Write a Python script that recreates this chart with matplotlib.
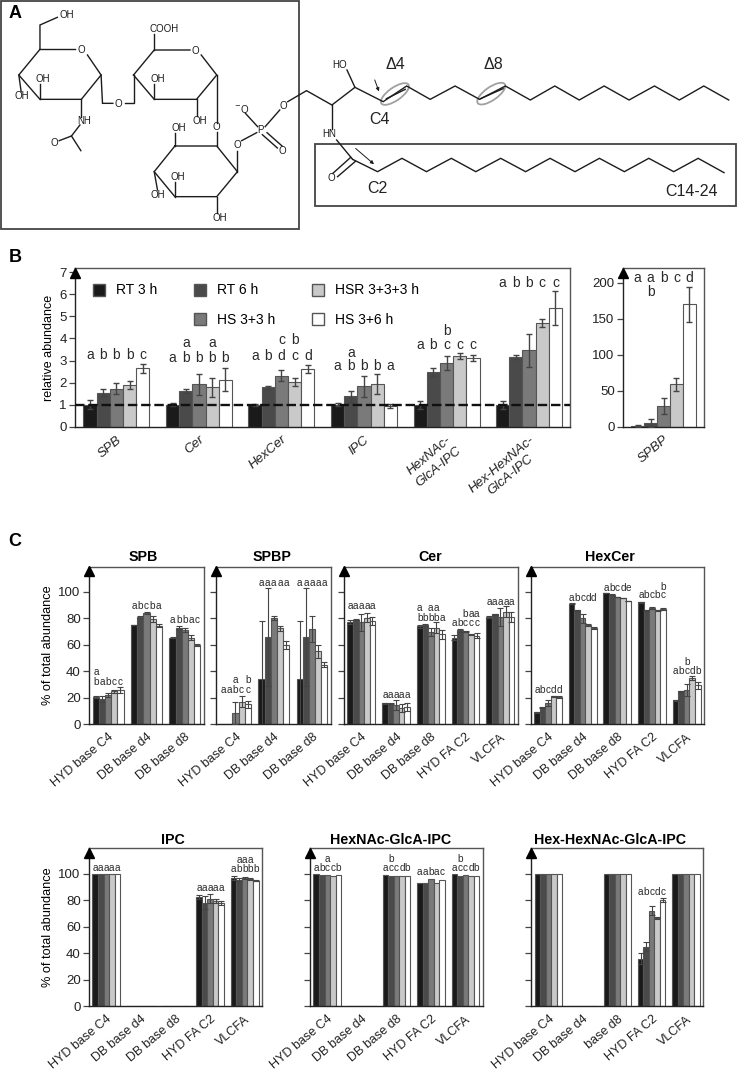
import numpy as np
import matplotlib
matplotlib.use('Agg')
import matplotlib.pyplot as plt
from matplotlib.patches import Rectangle, Ellipse, Patch
from matplotlib.transforms import ScaledTranslation

plt.rcParams['font.family'] = ['Liberation Sans', 'DejaVu Sans']
plt.rcParams['axes.linewidth'] = 1.0

W, H = 737, 1077
colors = ['#1a1a1a', '#4a4a4a', '#7a7a7a', '#c9c9c9', '#ffffff']
series = ['RT 3 h', 'RT 6 h', 'HS 3+3 h', 'HSR 3+3+3 h', 'HS 3+6 h']

# panel B
b_names = ['SPB', 'Cer', 'HexCer', 'IPC', 'HexNAc-\nGlcA-IPC', 'Hex-HexNAc-\nGlcA-IPC']
b_vals = [[1.0, 1.55, 1.72, 1.9, 2.65], [1.0, 1.62, 1.92, 1.78, 2.12], [1.0, 1.78, 2.32, 2.03, 2.63],
          [1.0, 1.37, 1.83, 1.95, 0.95], [1.0, 2.5, 2.9, 3.22, 3.12], [1.0, 3.15, 3.47, 4.72, 5.37]]
b_errs = [[.22, .17, .24, .17, .2], [.07, .1, .47, .45, .52], [.04, .08, .27, .18, .18],
          [.07, .25, .47, .45, .1], [.18, .18, .32, .13, .15], [.18, .08, .75, .18, .77]]
b_marks = [[('abbbc', 3.25)], [(' a a ', 3.78), ('abbbb', 3.1)], [('  cb ', 3.93), ('abdcd', 3.22)],
           [(' a   ', 3.35), ('abbba', 2.75)], [('  b  ', 4.33), ('abccc', 3.7)], [('abbcc', 6.5)]]
spbp_vals = [[1, 5, 29, 59, 170]]
spbp_errs = [[2, 5, 11, 9, 24]]
spbp_marks = [[('aabcd', 206), (' b   ', 186.5)]]

# panel C
names3 = ['HYD base C4', 'DB base d4', 'DB base d8']
names5 = ['HYD base C4', 'DB base d4', 'DB base d8', 'HYD FA C2', 'VLCFA']
names5b = ['HYD base C4', 'DB base d4', 'base d8', 'HYD FA C2', 'VLCFA']

spb_vals = [[20.5, 19, 22, 25, 26], [75, 81, 84, 79.5, 74.5], [65.5, 73, 71, 65.5, 60]]
spb_errs = [[1, 2, 1.5, 1, 2], [.3, .5, 1, 2, 1], [.5, 1, 1.5, 2, 1]]
spb_marks = [[('a    ', 39.8), ('babcc', 32)], [('abcba', 89.4)], [('abbac', 78.6)]]

sbp_vals = [[0, 0, 8.3, 17, 15], [34.5, 66, 80, 72.5, 60], [34.5, 66, 72, 55, 45]]
sbp_errs = [[0, 0, 8.2, 4, 2.5], [43.5, 37, 1.5, 2, 3], [43.5, 37, 9.5, 5, 2]]
sbp_marks = [[('  a b', 33.5), ('aabcc', 26)], [('aaaaa', 107)], [('aaaaa', 107)]]

cer_vals = [[77, 79, 77, 80.5, 78], [16, 15.5, 14.5, 12, 13], [74, 75, 70, 73, 68], [65.5, 71, 70, 68, 67], [81, 83, 81, 85, 81]]
cer_errs = [[1.5, .5, 6.5, 3.5, 3], [.3, .3, 4, 3, 3], [1, 1, 3, 4, 3.5], [2, 1, .5, .5, 2], [1, .5, 7, 4, 4]]
cer_marks = [[('aaaaa', 89.4)], [('aaaaa', 22)], [('a aa ', 88), ('bbbba', 80.6)], [('  baa', 83), ('abccc', 76.6)], [('aaaaa', 92.4)]]

hex_vals = [[9, 12.5, 16, 21, 20.5], [91, 86, 80, 75, 73], [99, 98, 96, 95.5, 93], [92, 86, 88, 86, 87], [18, 25, 26, 35, 29.5]]
hex_errs = [[.3, .3, 2.5, .5, .5], [.3, .5, 3.5, 1, .8], [.2, .2, .2, .2, .2], [.3, .5, .8, .5, .8], [.3, .3, 4.5, 1.5, 2.5]]
hex_marks = [[('abcdd', 26)], [('abcdd', 95.7)], [('abcde', 103)], [('    b', 104), ('abcbc', 97.5)], [('  b  ', 46.9), ('abcdb', 40.3)]]

ipc_vals = [[99.5, 99.5, 99.5, 99.7, 99.5], [0] * 5, [0] * 5, [82, 78, 81, 79, 77.5], [97, 95.5, 96.5, 96, 94.5]]
ipc_errs = [[0] * 5, [0] * 5, [0] * 5, [1.5, 5, 3.5, 1.5, 1.5], [1.5, 1, .8, .5, .5]]
ipc_marks = [[('aaaaa', 104.5)], [], [], [('aaaaa', 89.4)], [(' aaa ', 110), ('abbbb', 103.5)]]

hna_vals = [[99.3, 98.8, 99, 98.5, 98.7], [0] * 5, [99, 98.5, 98.5, 98, 98], [93, 93, 96, 93, 95], [99.5, 98.5, 98.7, 98, 98.2]]
hna_marks = [[('  a  ', 110.8), ('abccb', 104.5)], [], [(' b   ', 111), ('accdb', 104.5)], [('aabac', 100.8)], [(' b   ', 111), ('accdb', 104.5)]]

hhn_vals = [[100] * 5, [0] * 5, [100] * 5, [36, 45, 72, 66.5, 80], [100] * 5]
hhn_errs = [[0] * 5, [0] * 5, [0] * 5, [4.5, 3.5, 3.5, 1, 1.5], [0] * 5]
hhn_marks = [[], [], [], [('abcdc', 86)], []]
zero5 = [[0] * 5 for _ in range(5)]

# structure in panel A (zoom coordinates)
bonds = [
    [(85, 148), (160, 148)], [(186, 165), (215, 225), (173, 298), (85, 298), (40, 225), (85, 148)],
    [(85, 298), (85, 252)], [(40, 225), (45, 275)], [(85, 148), (85, 75), (122, 52)],
    [(173, 298), (173, 350)], [(170, 375), (152, 408), (126, 422)], [(152, 408), (172, 452)],
    [(215, 225), (218, 310), (240, 310)], [(265, 310), (284, 310), (284, 225)],
    [(284, 225), (328, 150), (404, 150)], [(428, 165), (461, 225), (418, 298), (328, 298), (284, 225)],
    [(328, 150), (328, 102)], [(328, 298), (328, 252)], [(418, 298), (418, 348)],
    [(461, 225), (461, 368)], [(461, 396), (461, 438)],
    [(372, 438), (461, 438), (505, 515), (461, 590), (372, 590), (328, 515), (372, 438)],
    [(372, 438), (372, 398)], [(372, 590), (372, 546)], [(328, 515), (335, 570)], [(461, 590), (461, 638)],
    [(505, 515), (505, 452)], [(514, 422), (546, 398)], [(522, 340), (548, 380)],
    [(564, 380), (595, 330)], [(558, 404), (590, 444)], [(568, 398), (600, 438)],
    [(612, 305), (652, 272), (706, 315), (755, 262), (815, 305), (865, 258), (915, 298), (968, 258),
     (1020, 298), (1075, 258), (1128, 300), (1180, 258), (1232, 300), (1285, 258), (1338, 300),
     (1392, 258), (1445, 300), (1497, 258), (1550, 300)],
    [(755, 262), (738, 210)], [(822, 296), (862, 268)], [(1022, 296), (1070, 266)],
    [(706, 315), (706, 386)], [(716, 420), (750, 478)], [(746, 472), (708, 520)], [(756, 484), (718, 530)],
    [(750, 478), (803, 515), (855, 475), (907, 515), (960, 475), (1012, 515), (1065, 475), (1118, 515),
     (1170, 475), (1223, 515), (1275, 475), (1328, 515), (1380, 475), (1433, 515), (1485, 475), (1540, 518)],
]
atoms = [('OH', 142, 45), ('O', 173, 150), ('OH', 92, 238), ('OH', 46, 287), ('NH', 180, 362), ('O', 115, 428),
         ('O', 252, 312), ('COOH', 350, 88), ('O', 416, 152), ('OH', 335, 238), ('OH', 425, 362), ('O', 461, 382),
         ('OH', 380, 383), ('OH', 378, 530), ('OH', 335, 585), ('OH', 468, 653), ('O', 505, 436), ('P', 555, 390),
         ('$^{-}$O', 513, 328), ('O', 602, 318), ('O', 600, 452), ('HO', 722, 195), ('HN', 700, 402), ('O', 705, 535)]
big_labels = [('Δ4', 840, 193), ('Δ8', 1050, 193), ('C4', 808, 360), ('C2', 803, 565), ('C14-24', 1470, 575)]


def zx(x):
    return x / 2.127


def zy(y):
    return y / 3.0


def box(left, top, right, bottom):
    return fig.add_axes([left / W, 1 - bottom / H, (right - left) / W, (bottom - top) / H])


def grouped(ax, vals, errs, marks, names, ymax, bw=0.16, fs=7.2, cap=2.2, lw=0.8, rot=40, lab_fs=9, italic=False):
    n = len(vals)
    for j in range(5):
        x = np.arange(n) + (j - 2) * bw
        y = [v[j] for v in vals]
        e = [v[j] for v in errs]
        ax.bar(x, y, bw, color=colors[j], edgecolor='#555555', linewidth=0.8, zorder=2)
        keep = [k for k in range(n) if e[k] > 0]
        ax.errorbar(x[keep], [y[k] for k in keep], yerr=[e[k] for k in keep], fmt='none',
                    ecolor='#444444', elinewidth=lw, capsize=cap, capthick=lw, zorder=3)
    for i, rows in enumerate(marks):
        for s, yy in rows:
            for j, ch in enumerate(s):
                if ch != ' ':
                    ax.text(i + (j - 2) * bw, yy, ch, ha='center', va='center', fontsize=fs, color='#2a2a2a')
    ax.set_xlim(-0.5, n - 0.5)
    ax.set_ylim(0, ymax)
    ax.set_xticks(range(n))
    ax.set_xticklabels(names, rotation=rot, ha='right', va='top', rotation_mode='anchor', fontsize=lab_fs,
                       style='italic' if italic else 'normal', multialignment='center', color='#222222')
    shift = ScaledTranslation(4 / 100, 0, fig.dpi_scale_trans)
    for lab in ax.get_xticklabels():
        lab.set_transform(lab.get_transform() + shift)
    ax.tick_params(axis='x', length=0, pad=5)
    ax.tick_params(axis='y', length=4, width=0.9, color='#444444', labelcolor='#222222')
    for s in ['top', 'right']:
        ax.spines[s].set_color('#555555')
    ax.spines['left'].set_color('#222222')
    ax.spines['bottom'].set_color('#222222')
    ax.plot(0, 0.972, '^', transform=ax.transAxes, clip_on=False, ms=6.5, color='k', zorder=5)


def title(ax, text, dx, pad=4):
    # the figure's titles sit a little left of the axes centre
    ax.set_title(text, fontsize=10.3, fontweight='bold', pad=pad, x=0.5 + dx / ax.bbox.width)


fig = plt.figure(figsize=(W / 100, H / 100), dpi=100)

# overlay for panel A and the panel letters
ov = fig.add_axes([0, 0, 1, 1])
ov.set_xlim(0, W)
ov.set_ylim(H, 0)
ov.axis('off')
ov.add_patch(Rectangle((0.7, 0.7), zx(635), zy(685), fill=False, ec='#444444', lw=1.3))
ov.add_patch(Rectangle((zx(670), zy(432)), zx(895), zy(186), fill=False, ec='#444444', lw=1.3))
for b in bonds:
    ov.plot([zx(p[0]) for p in b], [zy(p[1]) for p in b], color='#1c1c1c', lw=1.0, solid_joinstyle='miter')
for cx, cy in [(840, 282), (1045, 281)]:
    ov.add_patch(Ellipse((zx(cx), zy(cy)), 33, 13, angle=-35, fill=False, ec='#a0a0a0', lw=1.3))
for p0, p1 in [((795, 232), (808, 282)), ((752, 440), (800, 498))]:
    ov.annotate('', xy=(zx(p1[0]), zy(p1[1])), xytext=(zx(p0[0]), zy(p0[1])),
                arrowprops=dict(arrowstyle='-|>', color='#1c1c1c', lw=0.7, mutation_scale=5))
for t, x, y in atoms:
    ov.text(zx(x), zy(y), t, ha='center', va='center', fontsize=7, color='#1c1c1c')
for t, x, y in big_labels:
    ov.text(zx(x), zy(y), t, ha='center', va='center', fontsize=11.5, color='#222222')
for t, y in [('A', 14), ('B', 257), ('C', 541)]:
    ov.text(15, y, t, ha='center', va='center', fontsize=13, fontweight='bold')

# panel B
ax = box(75.2, 268.3, 570.3, 426.7)
grouped(ax, b_vals, b_errs, b_marks, b_names, 7.18, fs=10, cap=2.5, lw=1.0, lab_fs=9.5, italic=True)
ax.axhline(1, color='#111111', ls=(0, (4, 1.6)), lw=1.7, zorder=4)
ax.set_yticks(range(8))
ax.tick_params(axis='y', labelsize=9.5, pad=2)
ax.set_ylabel('relative abundance', fontsize=9, labelpad=3)
handles = [Patch(facecolor=colors[0], edgecolor='#555555'), Patch(visible=False),
           Patch(facecolor=colors[1], edgecolor='#555555'), Patch(facecolor=colors[2], edgecolor='#555555'),
           Patch(facecolor=colors[3], edgecolor='#555555'), Patch(facecolor=colors[4], edgecolor='#555555')]
labels = [series[0], '', series[1], series[2], series[3], series[4]]
ax.legend(handles, labels, ncol=3, frameon=False, fontsize=10, loc='upper left', bbox_to_anchor=(0.035, 0.905),
          borderaxespad=0, borderpad=0, handlelength=0.87, handleheight=0.95, handletextpad=0.8,
          labelspacing=1.1, columnspacing=2.65)

ax = box(623, 268.3, 704, 426.7)
grouped(ax, spbp_vals, spbp_errs, spbp_marks, ['SPBP'], 220, bw=0.16, fs=10, cap=2.5, lw=1.0, lab_fs=9.5, italic=True)
ax.set_yticks(range(0, 201, 50))
ax.tick_params(axis='y', labelsize=9.5, pad=2)

# panel C top row
y0, y1 = 566.7, 724.3
ax = box(89, y0, 204, y1)
grouped(ax, spb_vals, spb_errs, spb_marks, names3, 119)
ax.set_yticks(range(0, 101, 20))
ax.tick_params(axis='y', labelsize=9.5, pad=2)
ax.set_ylabel('% of total abundance', fontsize=9.2, labelpad=3)
title(ax, 'SPB', -3)

ax = box(216.3, y0, 331.3, y1)
grouped(ax, sbp_vals, sbp_errs, sbp_marks, names3, 119)
ax.set_yticks(range(0, 101, 20))
ax.set_yticklabels([])
title(ax, 'SPBP', -2)

ax = box(344, y0, 517.7, y1)
grouped(ax, cer_vals, cer_errs, cer_marks, names5, 119)
ax.set_yticks(range(0, 101, 20))
ax.set_yticklabels([])
title(ax, 'Cer', -1)

ax = box(530.7, y0, 704, y1)
grouped(ax, hex_vals, hex_errs, hex_marks, names5, 119)
ax.set_yticks(range(0, 101, 20))
ax.set_yticklabels([])
title(ax, 'HexCer', -7)

# panel C bottom row
y0, y1 = 848.3, 1006.3
ax = box(89, y0, 262, y1)
grouped(ax, ipc_vals, ipc_errs, ipc_marks, names5, 119)
ax.set_yticks(range(0, 101, 20))
ax.tick_params(axis='y', labelsize=9.5, pad=2)
ax.set_ylabel('% of total abundance', fontsize=9.2, labelpad=3)
title(ax, 'IPC', -3, pad=3)

ax = box(310, y0, 482.7, y1)
grouped(ax, hna_vals, zero5, hna_marks, names5, 119)
ax.set_yticks(range(0, 101, 20))
ax.set_yticklabels([])
title(ax, 'HexNAc-GlcA-IPC', -6, pad=3)

ax = box(531.3, y0, 703.3, y1)
grouped(ax, hhn_vals, hhn_errs, hhn_marks, names5b, 119)
ax.set_yticks(range(0, 101, 20))
ax.set_yticklabels([])
title(ax, 'Hex-HexNAc-GlcA-IPC', -7, pad=3)

fig.savefig('out.png', dpi=100)
